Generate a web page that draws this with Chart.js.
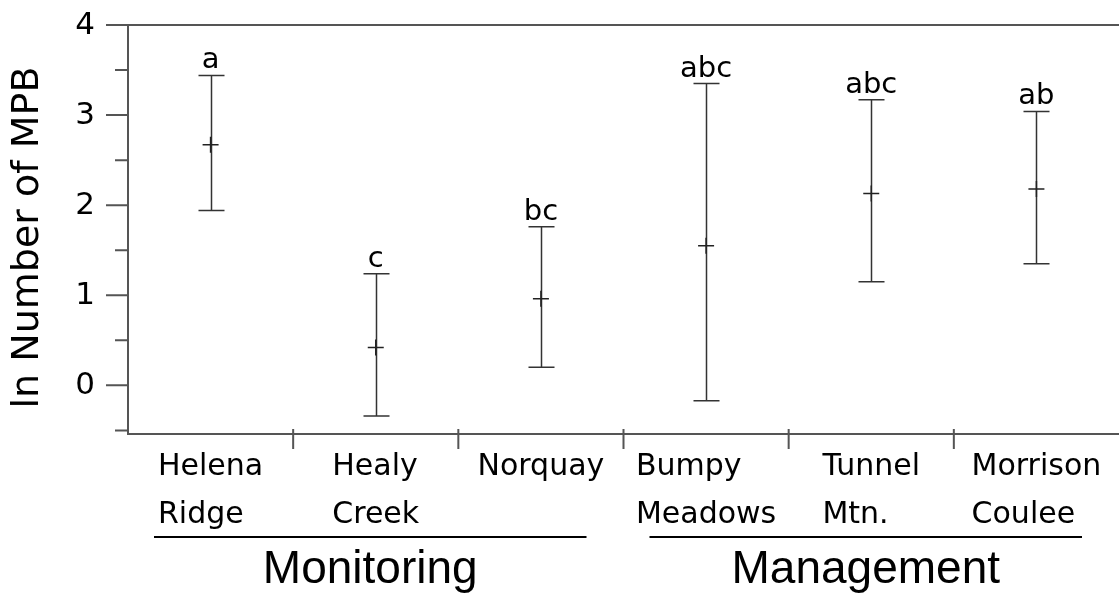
<!DOCTYPE html>
<html>
<head>
<meta charset="utf-8">
<script src="https://cdn.jsdelivr.net/npm/chart.js@4"></script>
<style>
body { margin: 0; background: #fff; }
</style>
</head>
<body>
<canvas id="myChart" width="1119" height="598"></canvas>
<script>
var categories = [["Helena", "Ridge"], ["Healy", "Creek"], ["Norquay"], ["Bumpy", "Meadows"], ["Tunnel", "Mtn."], ["Morrison", "Coulee"]];
var means = [2.67, 0.42, 0.96, 1.55, 2.13, 2.18];
var upper = [3.44, 1.24, 1.76, 3.35, 3.17, 3.04];
var lower = [1.94, -0.34, 0.20, -0.17, 1.15, 1.35];
var letters = ["a", "c", "bc", "abc", "abc", "ab"];
var groupNames = ["Monitoring", "Management"];
var groupStart = [0, 3];
var groupEnd = [2, 5];
var yTicks = [0, 1, 2, 3, 4];

var axisColor = '#555';
var barColor = '#333';

var extras = {
    id: 'extras',
    beforeDatasetsDraw: function(chart) {
        var c = chart.ctx, x = chart.scales.x, y = chart.scales.y;
        c.save();
        c.strokeStyle = barColor;
        c.lineWidth = 1.5;
        for (var i = 0; i < means.length; i++) {
            var px = Math.round(x.getPixelForValue(i)) + 0.5;
            var top = y.getPixelForValue(upper[i]);
            var bot = y.getPixelForValue(lower[i]);
            c.beginPath();
            c.moveTo(px, top); c.lineTo(px, bot);
            c.moveTo(px - 13, top); c.lineTo(px + 13, top);
            c.moveTo(px - 13, bot); c.lineTo(px + 13, bot);
            c.stroke();
        }
        c.restore();
    },
    afterDraw: function(chart) {
        var c = chart.ctx, x = chart.scales.x, y = chart.scales.y, area = chart.chartArea;
        c.save();
        // frame top + y ticks
        c.strokeStyle = axisColor;
        c.lineWidth = 2;
        c.beginPath();
        c.moveTo(area.left, y.getPixelForValue(4)); c.lineTo(area.right, y.getPixelForValue(4));
        for (var v = -0.5; v <= 4; v += 0.5) {
            var py = y.getPixelForValue(v);
            var len = (v % 1 === 0) ? 22 : 13;
            c.moveTo(area.left - len, py); c.lineTo(area.left, py);
        }
        // category dividers
        for (var i = 1; i < categories.length; i++) {
            var dx = (x.getPixelForValue(i - 1) + x.getPixelForValue(i)) / 2;
            c.moveTo(dx, area.bottom - 5); c.lineTo(dx, area.bottom + 15);
        }
        c.stroke();

        // y tick labels
        c.fillStyle = '#000';
        c.font = '31px "DejaVu Sans"';
        c.textAlign = 'right';
        c.textBaseline = 'middle';
        yTicks.forEach(function(v) {
            c.fillText(String(v), area.left - 33, y.getPixelForValue(v) + 1);
        });

        // letters above error bars
        c.font = '29px "DejaVu Sans"';
        c.textAlign = 'center';
        c.textBaseline = 'alphabetic';
        for (var i = 0; i < letters.length; i++) {
            c.fillText(letters[i], x.getPixelForValue(i), y.getPixelForValue(upper[i]) - 7);
        }

        // category labels
        c.font = '30px "DejaVu Sans"';
        c.textAlign = 'left';
        for (var i = 0; i < categories.length; i++) {
            var lines = categories[i];
            var w = 0;
            lines.forEach(function(s) { w = Math.max(w, c.measureText(s).width); });
            var lx = x.getPixelForValue(i) - w / 2;
            lines.forEach(function(s, j) {
                c.fillText(s, lx, area.bottom + 41 + j * 48);
            });
        }

        // group lines and names
        var step = x.getPixelForValue(1) - x.getPixelForValue(0);
        c.strokeStyle = '#000';
        c.lineWidth = 2;
        c.font = '46px "Liberation Sans"';
        c.textAlign = 'center';
        for (var g = 0; g < groupNames.length; g++) {
            var x1 = x.getPixelForValue(groupStart[g]) - step / 2 + 26;
            var x2 = x.getPixelForValue(groupEnd[g]) + step / 2 - 37;
            c.beginPath();
            c.moveTo(x1, area.bottom + 103); c.lineTo(x2, area.bottom + 103);
            c.stroke();
            c.fillText(groupNames[g], (x1 + x2) / 2, area.bottom + 149);
        }

        // y title
        c.translate(28, (area.top + area.bottom) / 2 + 8);
        c.rotate(-Math.PI / 2);
        c.font = '38px "DejaVu Sans"';
        c.textBaseline = 'middle';
        c.fillText('ln Number of MPB', 0, 0);
        c.restore();
    }
};

var ctx = document.getElementById("myChart");
var myChart = new Chart(ctx, {
    type: 'line',
    data: {
        labels: categories,
        datasets: [
            {
            label: 'Mean',
            data: means,
            showLine: false,
            pointStyle: 'cross',
            pointRadius: 8,
            pointHoverRadius: 8,
            borderColor: '#222',
            backgroundColor: '#222',
            pointBorderWidth: 1.5,
        }
    ]
    },
    options: {
    responsive: false,
    animation: false,
    events: [],
    layout: {
        autoPadding: false,
        padding: { top: 25, right: 0, left: 0, bottom: 0 }
    },
    plugins: {
        legend: { display: false },
        tooltip: { enabled: false }
    },
    scales: {
        x: {
            offset: true,
            grid: { display: false, drawTicks: false },
            ticks: { display: false },
            border: { display: true, color: axisColor, width: 2 },
            afterFit: function(scale) { scale.height = 164; }
        },
        y: {
            min: -0.54,
            max: 4,
            afterBuildTicks: function(scale) {
                scale.ticks = yTicks.map(function(v) { return { value: v }; });
            },
            grid: { display: false, drawTicks: false },
            border: { display: true, color: axisColor, width: 2 },
            ticks: { display: false },
            afterFit: function(scale) { scale.width = 128; }
        }
    }
    },
    plugins: [extras]
});
</script>
</body>
</html>
